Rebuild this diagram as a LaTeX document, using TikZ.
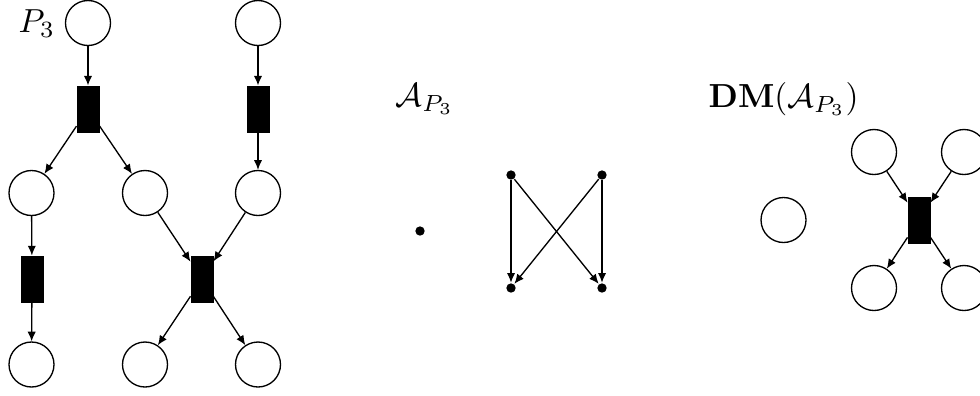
\documentclass[tikz,border=0pt]{standalone}
\usetikzlibrary{arrows.meta}
\begin{document}
\begin{tikzpicture}[x=0.3pt,y=-0.3pt,
  place/.style={draw,circle,minimum size=13.5pt,inner sep=0pt},
  trans/.style={draw,fill=black,rectangle,minimum width=6.5pt,minimum height=13.7pt,inner sep=0pt},
  dotv/.style={fill=black,circle,minimum size=2.8pt,inner sep=0pt},
  arc/.style={-{Latex[length=2.9pt,width=2.5pt]}},
  lbl/.style={anchor=base west,inner sep=0pt}]
\useasboundingbox (0,0) rectangle (980,395);
\clip (0,0) rectangle (980,395);
% Left net P3
\node[lbl] (l1) at (18,32) {$P_3$};
\node[place] (p1) at (88,23) {};
\node[place] (p2) at (258,23) {};
\node[trans] (t1) at (88,109) {};
\node[trans] (t2) at (258,109) {};
\node[place] (p3) at (31.5,193) {};
\node[place] (p4) at (145,193) {};
\node[place] (p5) at (258,193) {};
\node[trans] (t3) at (32,279) {};
\node[trans] (t4) at (202,279) {};
\node[place] (p6) at (31.5,364.5) {};
\node[place] (p7) at (145,364.5) {};
\node[place] (p8) at (258,364.5) {};
\draw[arc] (p1) -- (t1);
\draw[arc] (t1) -- (p3);
\draw[arc] (t1) -- (p4);
\draw[arc] (p2) -- (t2);
\draw[arc] (t2) -- (p5);
\draw[arc] (p3) -- (t3);
\draw[arc] (t3) -- (p6);
\draw[arc] (p4) -- (t4);
\draw[arc] (p5) -- (t4);
\draw[arc] (t4) -- (p7);
\draw[arc] (t4) -- (p8);
% Middle A_P3
\node[lbl] (l2) at (395,106) {$\mathcal{A}_{P_3}$};
\node[dotv] (d0) at (420,231) {};
\node[dotv] (da) at (511,175) {};
\node[dotv] (db) at (602,175) {};
\node[dotv] (dc) at (511,288) {};
\node[dotv] (dd) at (602,288) {};
\draw[arc] (da) -- (dc);
\draw[arc] (da) -- (dd);
\draw[arc] (db) -- (dc);
\draw[arc] (db) -- (dd);
% Right DM(A_P3)
\node[lbl] (l3) at (708,107) {$\mathbf{DM}(\mathcal{A}_{P_3})$};
\node[place] (q0) at (783.5,220) {};
\node[place] (q1) at (874,152) {};
\node[place] (q2) at (964,152) {};
\node[trans] (tt) at (919,220) {};
\node[place] (q3) at (874,288) {};
\node[place] (q4) at (964,288) {};
\draw[arc] (q1) -- (tt);
\draw[arc] (q2) -- (tt);
\draw[arc] (tt) -- (q3);
\draw[arc] (tt) -- (q4);
\end{tikzpicture}
\end{document}
